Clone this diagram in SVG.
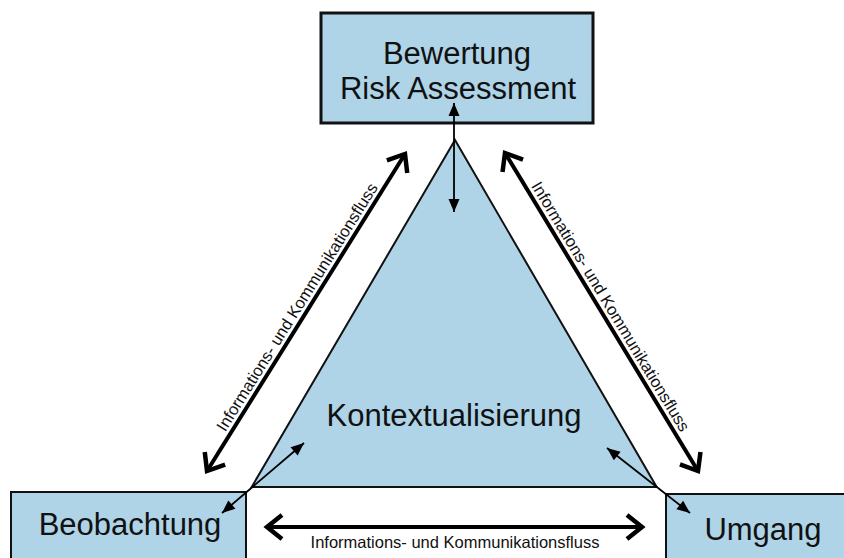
<svg xmlns="http://www.w3.org/2000/svg" width="844" height="558" viewBox="0 0 844 558">
  <style>
    .box { fill: #AFD4E8; stroke: #111111; stroke-width: 2; }
    .big { font-family: "Liberation Sans", Arial, sans-serif; font-size: 31px; fill: #111111; text-anchor: middle; }
    .lbl { font-family: "Liberation Sans", Arial, sans-serif; font-size: 16.5px; fill: #111111; text-anchor: middle; }
    .flow { stroke: #000000; stroke-width: 4; fill: none; marker-start: url(#open); marker-end: url(#open); }
    .small { stroke: #000000; stroke-width: 1.8; fill: none; marker-start: url(#solid); marker-end: url(#solid); }
  </style>
  <defs>
    <marker id="open" viewBox="-20 -14 24 28" refX="0" refY="0" markerWidth="24" markerHeight="28" markerUnits="userSpaceOnUse" orient="auto-start-reverse" overflow="visible">
      <path d="M -15 -12 L 0 0 L -15 12" fill="none" stroke="#000000" stroke-width="4.5" stroke-linejoin="miter" stroke-linecap="butt"/>
    </marker>
    <marker id="solid" viewBox="-14 -7 16 14" refX="0" refY="0" markerWidth="16" markerHeight="14" markerUnits="userSpaceOnUse" orient="auto-start-reverse" overflow="visible">
      <path d="M 0 0 L -13 -5.5 L -13 5.5 Z" fill="#000000"/>
    </marker>
  </defs>

  <g id="kontextualisierung">
    <polygon class="box" points="455,140 251.7,487 656.7,487"/>
    <text class="big" x="454" y="426">Kontextualisierung</text>
  </g>

  <g id="bewertung">
    <rect class="box" x="321" y="13" width="272" height="110" style="stroke-width:3"/>
    <text class="big" x="457" y="64">Bewertung</text>
    <text class="big" x="458" y="99">Risk Assessment</text>
  </g>

  <g id="beobachtung">
    <rect class="box" x="11" y="492" width="235" height="80"/>
    <text class="big" x="130" y="535">Beobachtung</text>
  </g>

  <g id="umgang">
    <rect class="box" x="666" y="494" width="190" height="80"/>
    <text class="big" x="763" y="540">Umgang</text>
  </g>

  <g id="connectors">
    <line class="flow" x1="207" y1="471" x2="405" y2="154"/>
    <line class="flow" x1="505" y1="153" x2="698" y2="471"/>
    <line class="flow" x1="267" y1="527" x2="642" y2="527"/>
    <line class="small" x1="454" y1="103" x2="454" y2="212"/>
    <line class="small" x1="304" y1="443" x2="222" y2="513"/>
    <line class="small" x1="607" y1="448" x2="690" y2="513"/>
    <text class="lbl" transform="translate(301.8,309.9) rotate(-58)">Informations- und Kommunikationsfluss</text>
    <text class="lbl" transform="translate(605.8,309.4) rotate(58.75)">Informations- und Kommunikationsfluss</text>
    <text class="lbl" x="455" y="547.5">Informations- und Kommunikationsfluss</text>
  </g>
</svg>
